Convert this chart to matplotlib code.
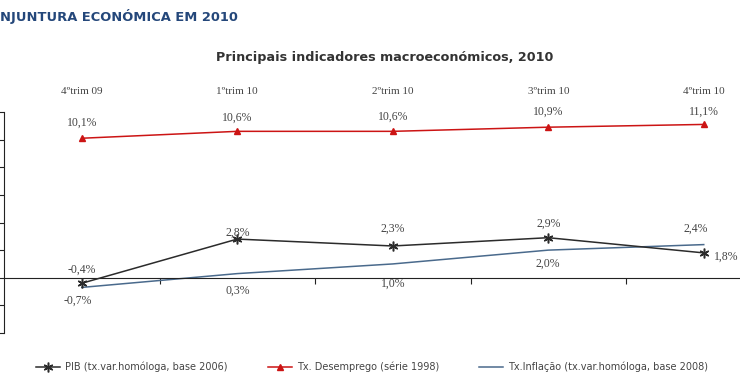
import matplotlib
matplotlib.use("Agg")
import matplotlib.pyplot as plt

quarters = ["4ºtrim 09", "1ºtrim 10", "2ºtrim 10", "3ºtrim 10", "4ºtrim 10"]
pib = [-0.4, 2.8, 2.3, 2.9, 1.8]
desemprego = [10.1, 10.6, 10.6, 10.9, 11.1]
inflacao = [-0.7, 0.3, 1.0, 2.0, 2.4]

pib_labels = ["-0,4%", "2,8%", "2,3%", "2,9%", "1,8%"]
desemprego_labels = ["10,1%", "10,6%", "10,6%", "10,9%", "11,1%"]
inflacao_labels = ["-0,7%", "0,3%", "1,0%", "2,0%", "2,4%"]

RED = "#cc1414"
DARK = "#2b2b2b"
BLUE = "#4a6a8c"
LABEL = "#444444"

fig = plt.figure(figsize=(7.4, 3.89), dpi=100)
ax = fig.add_axes([4 / 740, 56 / 389, 777.5 / 740, 221 / 389])

x = list(range(len(quarters)))
ax.plot(x, inflacao, color=BLUE, lw=1.1, label="Tx.Inflação (tx.var.homóloga, base 2008)", zorder=2)
ax.plot(x, pib, color=DARK, lw=1.1, marker=(6, 2, 0), ms=7, mew=1.1,
        label="PIB (tx.var.homóloga, base 2006)", zorder=3)
ax.plot(x, desemprego, color=RED, lw=1.1, marker="^", ms=5,
        label="Tx. Desemprego (série 1998)", zorder=3)

ax.set_xlim(-0.5, 4.5)
ax.set_ylim(-4, 12)
ax.set_yticks(range(-4, 13, 2))
ax.set_yticklabels([])
ax.set_xticks([0.5, 1.5, 2.5, 3.5])
ax.set_xticklabels([])
ax.tick_params(axis="both", direction="out", length=4, width=0.8, color="#222222")
for s in ["top", "right"]:
    ax.spines[s].set_visible(False)
ax.spines["bottom"].set_position(("data", 0))
ax.spines["left"].set_color("#222222")
ax.spines["bottom"].set_color("#222222")

serif = ["Liberation Serif", "DejaVu Serif"]

# quarter labels along the top
for i, q in enumerate(quarters):
    ax.text(i, 13.5, q, ha="center", va="center", fontsize=8, family=serif,
            color=LABEL, clip_on=False)

# data labels (offsets in pixels)
des_off = [(0, 16), (0, 14), (0, 15), (0, 15), (0, 13)]
pib_off = [(0, 14), (0, 6), (0, 17), (0, 14), (22, -4)]
inf_off = [(-4, -13), (0, -17), (0, -20), (0, -14), (-8, 16)]

def put_labels(vals, labels, offs):
    for i, (v, t, o) in enumerate(zip(vals, labels, offs)):
        ax.annotate(t, (i, v), xytext=(o[0] * 0.72, o[1] * 0.72), textcoords="offset points",
                    ha="center", va="center", fontsize=8.5, family=serif, color=LABEL,
                    annotation_clip=False)

put_labels(desemprego, desemprego_labels, des_off)
put_labels(pib, pib_labels, pib_off)
put_labels(inflacao, inflacao_labels, inf_off)

fig.text(0.0, 1 - 17 / 389, "NJUNTURA ECONÓMICA EM 2010", ha="left", va="center",
         fontsize=9.4, fontweight="bold", color="#24477a")
fig.text(385 / 740, 1 - 57 / 389, "Principais indicadores macroeconómicos, 2010",
         ha="center", va="center", fontsize=9.2, fontweight="bold", color="#333333")

handles, labs = ax.get_legend_handles_labels()
order = [1, 2, 0]
leg = fig.legend([handles[i] for i in order], [labs[i] for i in order],
                 loc="center", bbox_to_anchor=(372 / 740, 1 - 367 / 389), ncol=3,
                 frameon=False, handlelength=2.5, handletextpad=0.5, columnspacing=4.1,
                 prop={"family": ["DejaVu Sans"], "size": 7})
for t in leg.get_texts():
    t.set_color(LABEL)

fig.savefig("out.png", dpi=100)
